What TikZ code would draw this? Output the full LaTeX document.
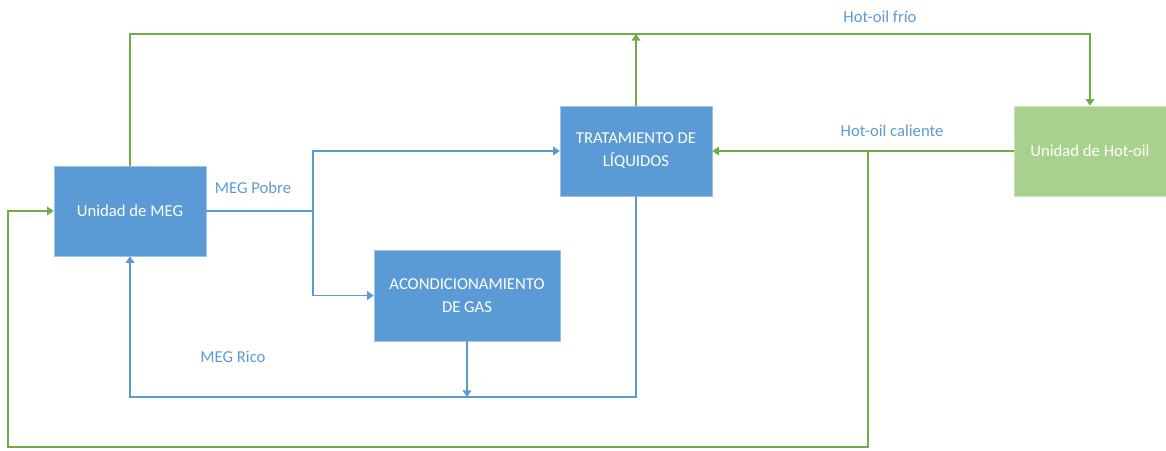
\documentclass[tikz,border=0pt]{standalone}
\usepackage{fontspec}
\setmainfont{Carlito}
\usetikzlibrary{positioning, arrows.meta}
\definecolor{megblue}{HTML}{5B9BD5}
\definecolor{oilgreen}{HTML}{70AD47}
\definecolor{oilbox}{HTML}{A9D18E}

\begin{document}
\begin{tikzpicture}[x=0.75pt, y=-0.75pt,
    unit/.style={rectangle, fill=megblue, draw=megblue!60!white, thin,
        minimum width=114pt, minimum height=67.5pt, text=white,
        align=center, font=\fontsize{12.5}{17}\selectfont},
    megflow/.style={draw=megblue, line width=1.4pt},
    oilflow/.style={draw=oilgreen, line width=1.4pt},
    tip/.style={-{Triangle[width=6.5pt,length=5pt]}},
    lbl/.style={text=megblue, font=\fontsize{12.5}{15}\selectfont}]
    \useasboundingbox (0,0) rectangle (1166,450);

    % units
    \node[unit] (meg) at (130,211) {Unidad de MEG};
    \node[unit] (trat) at (636,151) {TRATAMIENTO DE\\L\'IQUIDOS};
    \node[unit, minimum width=139.5pt, minimum height=68pt] (acond) at (467,295.5) {ACONDICIONAMIENTO\\DE GAS};
    \node[unit, fill=oilbox, draw=oilbox!60!white] (hot) at (1090,151) {Unidad de Hot-oil};

    % junctions
    \coordinate (top) at (636,34);
    \coordinate (split) at (868,151);
    \coordinate (lowleft) at (8,447);
    \coordinate (fork) at (313,211);
    \coordinate (ret) at (467,397);

    % hot-oil loop
    \draw[oilflow, tip] (meg.north) |- (top) -| (hot.north);
    \draw[oilflow, tip] (trat.north) -- (top);
    \draw[oilflow, tip] (hot.west) -- (trat.east);
    \draw[oilflow, tip] (split) |- (lowleft) |- (meg.west);

    % MEG loop
    \draw[megflow] (meg.east) -- (fork);
    \draw[megflow, tip] (fork) |- (trat.west);
    \draw[megflow, tip] (fork) |- (acond.west);
    \draw[megflow, tip] (trat.south) |- (ret) -| (meg.south);
    \draw[megflow, tip] (acond.south) -- (ret);

    % labels
    \node[lbl] (frio) at (880,17) {Hot-oil fr\'io};
    \node[lbl] (caliente) at (892,131) {Hot-oil caliente};
    \node[lbl] (pobre) at (253,188) {MEG Pobre};
    \node[lbl] (rico) at (233,357) {MEG Rico};
\end{tikzpicture}
\end{document}
